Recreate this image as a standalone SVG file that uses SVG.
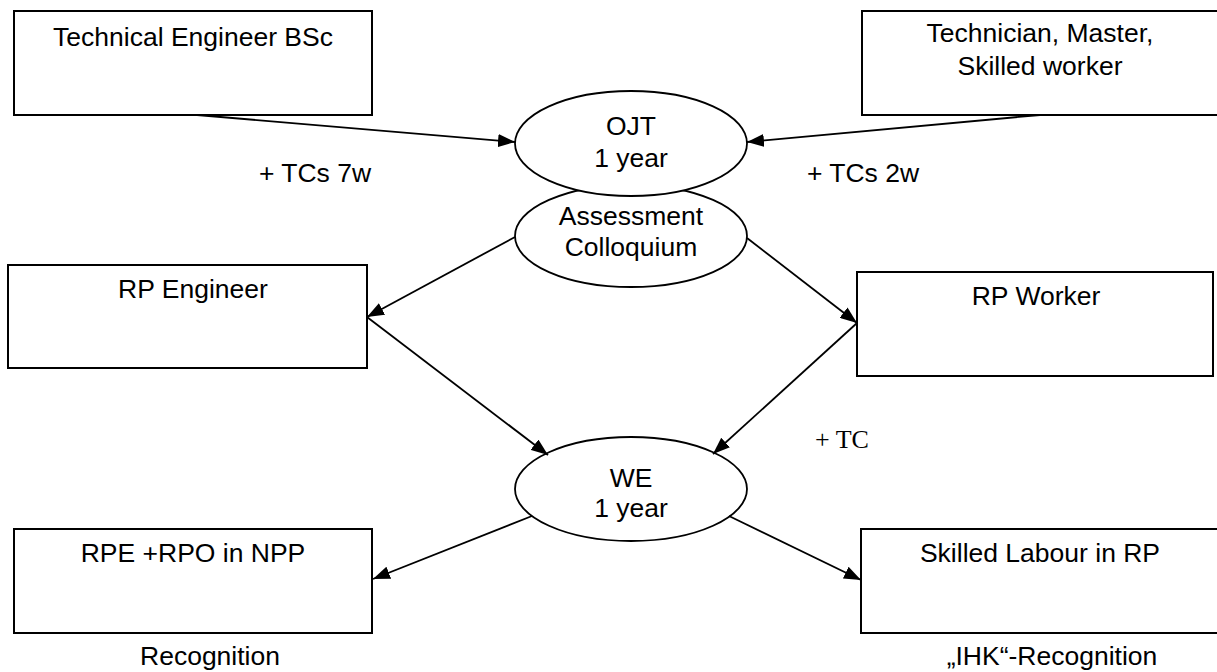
<svg xmlns="http://www.w3.org/2000/svg" width="1217" height="672" viewBox="0 0 1217 672">
<style>
.box{fill:#fff;stroke:#000;stroke-width:2}
.ell{fill:#fff;stroke:#000;stroke-width:1.8}
.t{font-family:"Liberation Sans",Arial,sans-serif;font-size:26.5px;fill:#000;text-anchor:middle}
.ts{font-family:"Liberation Serif","Times New Roman",serif;font-size:26px;fill:#000}
.c{stroke:#000;stroke-width:1.8;fill:none;marker-end:url(#ah)}
</style>
<defs>
<marker id="ah" viewBox="0 0 17 13" refX="17" refY="6.5" markerWidth="17" markerHeight="13" markerUnits="userSpaceOnUse" orient="auto">
<path d="M0,0 L17,6.5 L0,13 z" fill="#000"/>
</marker>
</defs>
<g id="n-tech-eng"><rect class="box" x="14" y="11" width="358" height="104"/><text class="t" x="193" y="46">Technical Engineer BSc</text></g>
<g id="n-technician"><rect class="box" x="862" y="11" width="358" height="104"/><text class="t" x="1040" y="42">Technician, Master,</text><text class="t" x="1040" y="75">Skilled worker</text></g>
<g id="n-assess"><ellipse class="ell" cx="631" cy="236" rx="116" ry="51"/><text class="t" x="631" y="225">Assessment</text><text class="t" x="631" y="256">Colloquium</text></g>
<g id="n-ojt"><ellipse class="ell" cx="631" cy="143.5" rx="116" ry="52.5"/><text class="t" x="631" y="135">OJT</text><text class="t" x="631" y="167">1 year</text></g>
<g id="n-rp-eng"><rect class="box" x="8" y="265" width="359" height="103"/><text class="t" x="193" y="298">RP Engineer</text></g>
<g id="n-rp-worker"><rect class="box" x="857" y="272" width="356" height="104"/><text class="t" x="1036" y="305">RP Worker</text></g>
<g id="n-we"><ellipse class="ell" cx="631" cy="489" rx="116" ry="52"/><text class="t" x="631" y="487">WE</text><text class="t" x="631" y="517">1 year</text></g>
<g id="n-rpe"><rect class="box" x="14" y="529" width="358" height="104"/><text class="t" x="193" y="562">RPE +RPO in NPP</text></g>
<g id="n-skilled"><rect class="box" x="861" y="529" width="358" height="104"/><text class="t" x="1040" y="562">Skilled Labour in RP</text></g>
<g id="labels">
<text class="t" x="315" y="182">+ TCs 7w</text>
<text class="t" x="863" y="182">+ TCs 2w</text>
<text class="ts" x="815" y="448">+ TC</text>
<text class="t" x="210" y="665">Recognition</text>
<text class="t" x="1052" y="665">„IHK“-Recognition</text>
</g>
<g id="connectors">
<line class="c" x1="197" y1="115" x2="515" y2="142"/>
<line class="c" x1="1040" y1="115" x2="747" y2="142"/>
<line class="c" x1="515" y1="237" x2="367" y2="317"/>
<line class="c" x1="747" y1="238" x2="857" y2="323"/>
<line class="c" x1="367" y1="317" x2="548" y2="455"/>
<line class="c" x1="857" y1="323" x2="713" y2="454"/>
<line class="c" x1="532" y1="516" x2="373" y2="579"/>
<line class="c" x1="729" y1="516" x2="861" y2="580"/>
</g>
</svg>
